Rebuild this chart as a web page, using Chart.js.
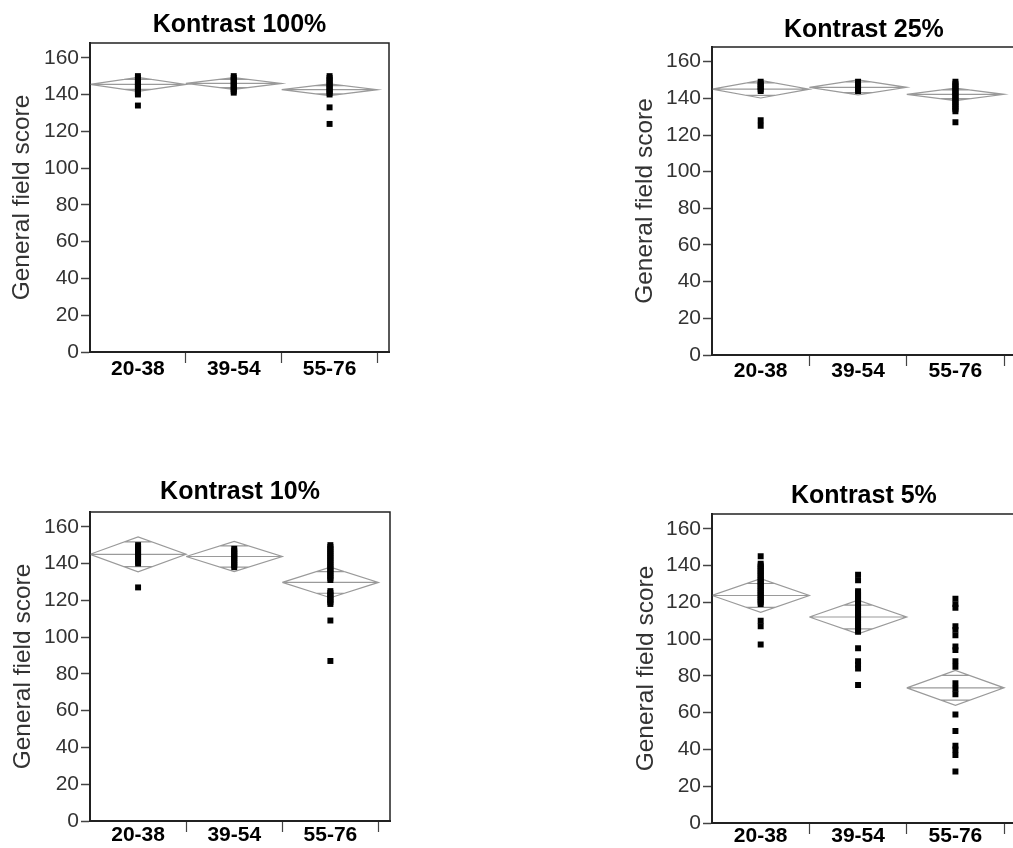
<!DOCTYPE html>
<html>
<head>
<meta charset="utf-8">
<script src="https://cdn.jsdelivr.net/npm/chart.js@4/dist/chart.umd.min.js"></script>
<style>
  html, body { margin: 0; padding: 0; background: #fff; overflow: hidden; width: 1013px; height: 848px; }
  canvas { position: absolute; }
</style>
</head>
<body>
<canvas id="k100" width="400" height="392" style="left:0px;top:0px"></canvas>
<canvas id="k25" width="420" height="392" style="left:600px;top:0px"></canvas>
<canvas id="k10" width="400" height="408" style="left:0px;top:440px"></canvas>
<canvas id="k5" width="420" height="408" style="left:600px;top:440px"></canvas>
<script>
    const groups = ['20-38', '39-54', '55-76'];
    const yTicks = [0, 20, 40, 60, 80, 100, 120, 140, 160];
    const dividers = [1, 2, 3];

    // Kontrast 100%
    const k100Means = [145.5, 146, 142.6];
    const k100Ci = [3.8, 3.2, 3.2];
    const k100Young = [150, 149, 148, 147, 146, 145, 144, 143, 142, 141, 140, 134];
    const k100Mid = [150, 149, 148, 147, 146, 145, 144, 143, 142, 141];
    const k100Old = [150, 149, 148, 147, 146, 145, 144, 143, 142, 141, 140, 133, 124];

    // Kontrast 25%
    const k25Means = [145, 146, 142.2];
    const k25Ci = [4.8, 4.1, 3.4];
    const k25Young = [149, 148, 147, 146, 145, 144, 128, 125];
    const k25Mid = [149, 148, 147, 146, 145, 144];
    const k25Old = [149, 148, 147, 146, 145, 144, 143, 142, 141, 140, 139, 138, 137, 136, 135, 134, 133, 127];

    // Kontrast 10%
    const k10Means = [145, 143.8, 129.7];
    const k10Ci = [9.5, 8.2, 8.3];
    const k10Young = [150, 149, 148, 147, 146, 145, 144, 143, 142, 141, 140, 127];
    const k10Mid = [148, 147, 146, 145, 144, 143, 142, 141, 140, 139, 138];
    const k10Old = [150, 149, 148, 147, 146, 145, 144, 143, 142, 141, 140, 139, 138, 137, 136, 135, 134, 133, 132, 131,
                    125, 124, 123, 122, 121, 120, 119, 118, 109, 87];

    // Kontrast 5%
    const k5Means = [123.7, 112, 73.5];
    const k5Ci = [9.2, 9.2, 9.5];
    const k5Young = [145, 141, 140, 139, 138, 137, 136, 135, 134, 133, 132, 131, 130, 129, 128, 127, 126, 125, 124, 123,
                     122, 121, 120, 119, 110, 107, 97];
    const k5Mid = [135, 132, 126, 125, 124, 123, 122, 121, 120, 119, 118, 117, 116, 115, 114, 113, 112, 111, 110, 109,
                   108, 107, 106, 105, 104, 95, 88, 86, 84, 75];
    const k5Old = [122, 119, 117, 107, 105, 102, 96, 94, 88, 85, 76, 73, 70, 59, 50, 42, 40, 37, 28];

    const FONT = 'Liberation Sans, Arial, Helvetica, sans-serif';

    // means diamonds: outline, mean line and overlap marks, segments split by nulls
    function diamondPoints(means, ci) {
        const pts = [];
        const hw = 0.5 * (1 - Math.SQRT1_2);
        means.forEach((m, i) => {
            const l = i, r = i + 1, c = i + 0.5;
            const o = ci[i] * Math.SQRT1_2;
            pts.push({x: l, y: m}, {x: c, y: m + ci[i]}, {x: r, y: m}, {x: c, y: m - ci[i]}, {x: l, y: m}, {x: l, y: null});
            pts.push({x: l, y: m}, {x: r, y: m}, {x: r, y: null});
            pts.push({x: c - hw, y: m + o}, {x: c + hw, y: m + o}, {x: c, y: null});
            pts.push({x: c - hw, y: m - o}, {x: c + hw, y: m - o}, {x: c, y: null});
        });
        return pts;
    }

    function dotPoints(scoreLists) {
        const pts = [];
        scoreLists.forEach((list, i) => {
            list.forEach(v => pts.push({x: i + 0.5, y: v}));
        });
        return pts;
    }

    const framePlugin = {
        id: 'frame',
        afterDraw(chart) {
            const {ctx, chartArea} = chart;
            ctx.save();
            ctx.strokeStyle = '#222';
            ctx.lineWidth = 1.5;
            ctx.strokeRect(chartArea.left, chartArea.top, chartArea.right - chartArea.left, chartArea.bottom - chartArea.top);
            ctx.restore();
        }
    };

    function makePanel(id, title, means, ci, scoreLists, lay) {
        const ctx = document.getElementById(id).getContext('2d');
        return new Chart(ctx, {
            type: 'scatter',
            data: {
                datasets: [
                    {
                        label: 'scores',
                        data: dotPoints(scoreLists),
                        pointStyle: 'rect',
                        pointRadius: 4.2,
                        backgroundColor: '#000',
                        borderColor: '#000',
                        borderWidth: 0,
                        order: 0
                    },
                    {
                        label: 'diamonds',
                        data: diamondPoints(means, ci),
                        showLine: true,
                        spanGaps: false,
                        pointRadius: 0,
                        borderColor: '#9a9a9a',
                        borderWidth: 1.2,
                        order: 1
                    }
                ]
            },
            options: {
                responsive: false,
                animation: false,
                devicePixelRatio: 1,
                layout: { padding: { left: 0, right: lay.right, top: 0, bottom: 0 } },
                plugins: {
                    legend: { display: false },
                    tooltip: { enabled: false },
                    title: {
                        display: true,
                        text: title,
                        fullSize: false,
                        color: '#000',
                        font: { family: FONT, size: 25, weight: 'bold', lineHeight: 1 },
                        padding: { top: lay.titleTop, bottom: lay.titleBottom }
                    }
                },
                scales: {
                    x: {
                        type: 'linear',
                        min: 0,
                        max: 3.12,
                        afterBuildTicks: scale => {
                            scale.ticks = [0.5, 1, 1.5, 2, 2.5, 3].map(v => ({value: v}));
                        },
                        afterFit: scale => { scale.height = lay.h - lay.bottom; },
                        ticks: {
                            autoSkip: false,
                            maxRotation: 0,
                            padding: lay.xPad,
                            color: '#000',
                            font: { family: FONT, size: 21, weight: 'bold', lineHeight: 1 },
                            callback: v => dividers.includes(v) ? '' : groups[Math.floor(v)]
                        },
                        grid: {
                            drawOnChartArea: false,
                            drawTicks: true,
                            tickLength: 11,
                            tickWidth: 1.2,
                            tickColor: c => (c.tick && dividers.includes(c.tick.value)) ? '#444' : 'rgba(0,0,0,0)'
                        },
                        border: { display: true, color: '#222', width: 2 }
                    },
                    y: {
                        type: 'linear',
                        min: 0,
                        max: 168,
                        afterBuildTicks: scale => {
                            scale.ticks = yTicks.map(v => ({value: v}));
                        },
                        afterFit: scale => { scale.width = lay.left; },
                        ticks: {
                            padding: 2,
                            color: '#333',
                            font: { family: FONT, size: 21, lineHeight: 1 }
                        },
                        grid: {
                            drawOnChartArea: false,
                            drawTicks: true,
                            tickLength: 9,
                            tickWidth: 1.5,
                            tickColor: '#444'
                        },
                        border: { display: true, color: '#222', width: 2 },
                        title: {
                            display: true,
                            text: 'General field score',
                            color: '#333',
                            font: { family: FONT, size: 24.5, lineHeight: 1 },
                            padding: { top: lay.yTitle, bottom: 0 }
                        }
                    }
                }
            },
            plugins: [framePlugin]
        });
    }

    makePanel('k100', 'Kontrast 100%', k100Means, k100Ci, [k100Young, k100Mid, k100Old],
        { h: 392, left: 90, right: 11, bottom: 352, titleTop: 12.5, titleBottom: 5.5, xPad: -4.5, yTitle: 10 });
    makePanel('k25', 'Kontrast 25%', k25Means, k25Ci, [k25Young, k25Mid, k25Old],
        { h: 392, left: 112, right: 4, bottom: 355, titleTop: 17.5, titleBottom: 4.5, xPad: -5.5, yTitle: 33 });
    makePanel('k10', 'Kontrast 10%', k10Means, k10Ci, [k10Young, k10Mid, k10Old],
        { h: 408, left: 90, right: 10, bottom: 381, titleTop: 39.5, titleBottom: 7.5, xPad: -7.5, yTitle: 11 });
    makePanel('k5', 'Kontrast 5%', k5Means, k5Ci, [k5Young, k5Mid, k5Old],
        { h: 408, left: 112, right: 4, bottom: 383, titleTop: 43.5, titleBottom: 5.5, xPad: -8.5, yTitle: 34 });
</script>
</body>
</html>
